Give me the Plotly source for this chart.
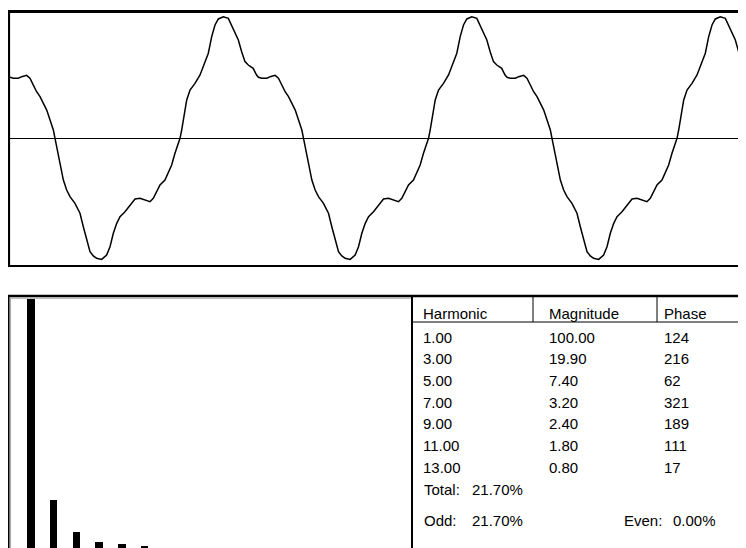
import plotly.graph_objects as go

# ---------------- data ----------------
# Harmonic analysis table
harmonics = [1, 3, 5, 7, 9, 11, 13]
magnitudes = [100.00, 19.90, 7.40, 3.20, 2.40, 1.80, 0.80]
phases = [124, 216, 62, 321, 189, 111, 17]
thd_total = "21.70%"
thd_odd = "21.70%"
thd_even = "0.00%"

# One period of the waveform
# (phase in degrees of the fundamental, value normalised to peak = 1)
wave_phase = [0, 4.8, 12.1, 16.9, 24.1, 28.9, 33.8, 38.6, 43.5, 48.3, 53.2, 58.0, 62.8,
              65.2, 68.6, 72.4, 77.3, 82.1, 86.9, 94.1, 101.4, 106.2, 111.0, 115.9,
              120.7, 125.5, 132.8, 140.0, 144.9, 149.7, 154.6, 159.4, 166.6, 173.8,
              181.1, 188.3, 195.6, 202.8, 207.6, 212.5, 217.3, 224.5, 229.3, 234.2,
              239.0, 243.8, 246.3, 248.7, 252.1, 256.0, 260.8, 268.0, 275.3, 281.1,
              287.3, 292.2, 297.0, 301.8, 309.0, 316.3, 321.1, 325.9, 330.8, 335.6,
              340.4, 345.2, 352.3, 357.2]
wave_value = [0.503, 0.495, 0.495, 0.508, 0.519, 0.495, 0.439, 0.384, 0.343, 0.289,
              0.233, 0.151, 0.068, 0.0, -0.096, -0.206, -0.344, -0.426, -0.481, -0.536,
              -0.618, -0.729, -0.838, -0.935, -0.970, -0.989, -0.998, -0.962, -0.894,
              -0.783, -0.701, -0.646, -0.605, -0.550, -0.500, -0.495, -0.509, -0.523,
              -0.495, -0.440, -0.385, -0.344, -0.289, -0.220, -0.124, -0.041, 0.0,
              0.068, 0.178, 0.316, 0.398, 0.453, 0.522, 0.604, 0.701, 0.838, 0.934,
              0.984, 1.002, 0.989, 0.934, 0.879, 0.810, 0.714, 0.632, 0.604, 0.577,
              0.522]
periods_shown = 3

# ---------------- layout helpers ----------------
# The page body has an 8 px margin, so the figure is sized to fill the
# remaining window and all screen positions are shifted by that margin.
WIN_W, WIN_H, OFF = 746, 548, 8
W, H = WIN_W - OFF, WIN_H - OFF


def px(x):
    return (x - OFF) / W


def py(y):
    return 1 - (y - OFF) / H


wx, wy = [], []
for k in range(periods_shown):
    wx += [p + 360 * k for p in wave_phase]
    wy += wave_value
wx.append(360 * periods_shown)
wy.append(wave_value[0])

fig = go.Figure()
fig.add_trace(go.Scatter(x=wx, y=wy, mode="lines",
                         line=dict(color="black", width=1.5),
                         xaxis="x", yaxis="y", hoverinfo="skip"))
fig.add_trace(go.Bar(x=harmonics, y=magnitudes, width=0.66,
                     marker=dict(color="black", line=dict(width=0)),
                     xaxis="x2", yaxis="y2", hoverinfo="skip"))

deg_per_px = 360 / 248.5
ax_common = dict(showgrid=False, showticklabels=False, ticks="", showline=False,
                 fixedrange=True)
fig.update_layout(
    width=W, height=H,
    margin=dict(l=0, r=0, t=0, b=0),
    paper_bgcolor="white", plot_bgcolor="white",
    showlegend=False,
    bargap=0,
    xaxis=dict(domain=[px(10), 1], range=[0, (WIN_W - 10) * deg_per_px],
               zeroline=False, **ax_common),
    yaxis=dict(domain=[py(265), py(13)], range=[-1.0445, 1.033],
               zeroline=True, zerolinecolor="black", zerolinewidth=1, **ax_common),
    xaxis2=dict(domain=[px(11), px(411)], range=[-0.762, 34.48],
                zeroline=False, **ax_common),
    yaxis2=dict(domain=[0, py(299)], range=[0.87, 99.6],
                zeroline=False, **ax_common),
)

shapes = []


def hline(y, x0, x1, w=1, color="black"):
    shapes.append(dict(type="line", xref="paper", yref="paper",
                       x0=px(x0), x1=px(x1), y0=py(y), y1=py(y),
                       line=dict(color=color, width=w)))


def vline(x, y0, y1, w=1, color="black"):
    shapes.append(dict(type="line", xref="paper", yref="paper",
                       x0=px(x), x1=px(x), y0=py(y0), y1=py(y1),
                       line=dict(color=color, width=w)))


# top panel frame
hline(11.5, 7, 746, 3)
vline(8.8, 10, 267, 2.6)
hline(266, 7, 746, 2)
# bottom panel frame
hline(296, 7, 746, 2.5)
hline(298.2, 10, 411, 1.2, "#a8a8a8")
vline(8.6, 295, 548, 2)
vline(10.4, 297, 548, 1.2, "#a8a8a8")
# table frame
vline(412, 296, 548, 2)
vline(533, 297, 322, 1)
vline(657, 297, 322, 1)
hline(322, 413, 746, 1)

annotations = []
FONT = dict(family="Liberation Sans, Arial, sans-serif", size=15, color="black")


def text(x, y, s):
    annotations.append(dict(xref="paper", yref="paper", x=px(x - 2), y=py(y),
                            text=s, showarrow=False, xanchor="left",
                            yanchor="middle", font=FONT))


col_x = [423, 549, 664]
text(col_x[0], 313, "Harmonic")
text(col_x[1], 313, "Magnitude")
text(col_x[2], 313, "Phase")
row0, pitch = 337, 21.7
for i, (h, m, p) in enumerate(zip(harmonics, magnitudes, phases)):
    y = row0 + i * pitch
    text(col_x[0], y, f"{h:.2f}")
    text(col_x[1], y, f"{m:.2f}")
    text(col_x[2], y, f"{p}")
text(424, 489, "Total:")
text(472, 489, thd_total)
text(424, 520, "Odd:")
text(472, 520, thd_odd)
text(624, 520, "Even:")
text(673, 520, thd_even)

fig.update_layout(shapes=shapes, annotations=annotations)
fig.write_html("out.html")
